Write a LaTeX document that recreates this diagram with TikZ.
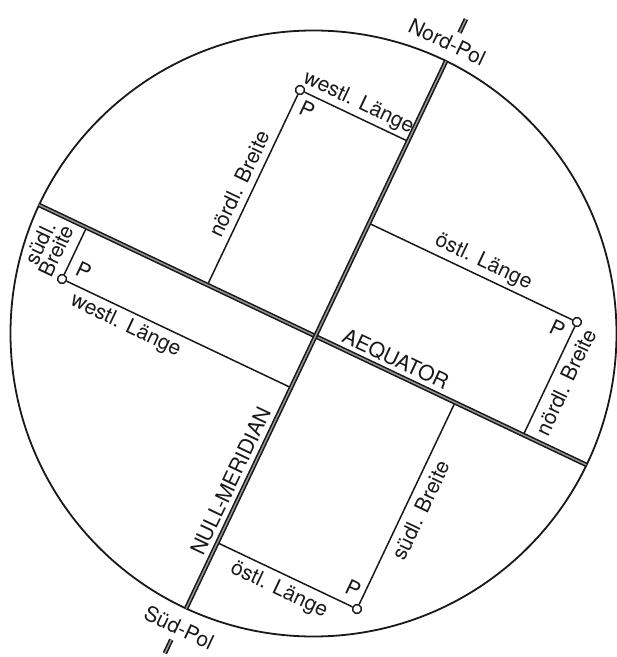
\documentclass[tikz,border=0pt]{standalone}
\usepackage{fontspec}
\setmainfont{TeX Gyre Heros}

\begin{document}
\begin{tikzpicture}[x=1pt, y=1pt,
  axis/.style={draw=black!90, line width=1.6pt, double=black!40, double distance=1.4pt},
  rim/.style={draw=black!90, line width=1.8pt},
  gridline/.style={draw=black!90, line width=1.5pt},
  pnt/.style={circle, draw=black!90, fill=white, line width=1.4pt, inner sep=0pt, minimum size=9pt},
  lbl/.style={font=\fontsize{21}{18}\selectfont, text=black!90, inner sep=0pt, align=center},
  vlbl/.style={lbl, rotate=90}
]
% Frame
\useasboundingbox (0,0) rectangle (617,657);

% Globe
\draw[rim] (313.5,323.5) circle (303);

\begin{scope}[shift={(315.4,320.8)}, rotate=-25.4, transform shape]
% Axes
\coordinate (O) at (0,0);
\coordinate (eqW) at (-306,0);
\coordinate (eqE) at (300,0);
\coordinate (mN) at (0,304.5);
\coordinate (mS) at (0,-301.5);
\coordinate (tN1) at (0,336);
\coordinate (tN2) at (0,351);
\coordinate (tS1) at (0,-336);
\coordinate (tS2) at (0,-351);

% Points
\node[pnt] (P1) at (-119.5,215.8) {};
\node[pnt] (P2) at (-253.4,-57) {};
\node[pnt] (P3) at (230.2,125) {};
\node[pnt] (P4) at (154.6,-228.6) {};

% Feet on meridian and equator
\coordinate (P1m) at (0,215.8);
\coordinate (P1e) at (-119.5,0);
\coordinate (P2m) at (0,-57);
\coordinate (P2e) at (-253.4,0);
\coordinate (P3m) at (0,125);
\coordinate (P3e) at (230.2,0);
\coordinate (P4m) at (0,-228.6);
\coordinate (P4e) at (154.6,0);

% Coordinate lines
\draw[gridline] (P1) -- (P1m);
\draw[gridline] (P1) -- (P1e);
\draw[gridline] (P2) -- (P2m);
\draw[gridline] (P2) -- (P2e);
\draw[gridline] (P3) -- (P3m);
\draw[gridline] (P3) -- (P3e);
\draw[gridline] (P4) -- (P4m);
\draw[gridline] (P4) -- (P4e);

% Equator and meridian
\draw[axis] (eqW) -- (eqE);
\draw[axis] (mS) -- (mN);
\draw[axis] (tN1) -- (tN2);
\draw[axis] (tS1) -- (tS2);

% Point labels
\node[lbl] (P1l) at (-104.5,201) {P};
\node[lbl] (P2l) at (-237.4,-40) {P};
\node[lbl] (P3l) at (215.2,111) {P};
\node[lbl] (P4l) at (142.6,-212) {P};

% Axis labels
\node[lbl] (aeq) at (82.5,13.5) {AEQUATOR};
\node[vlbl] (nm) at (-14,-167) {NULL-MERIDIAN};
\node[lbl] (np) at (-7,322) {Nord-Pol};
\node[lbl] (sp) at (2,-322) {Süd-Pol};

% Coordinate labels
\node[lbl] (l1) at (-61,229) {westl. Länge};
\node[vlbl] (b1) at (-134,105) {nördl. Breite};
\node[lbl] (l2) at (-176,-72) {westl. Länge};
\node[vlbl] (b2) at (-279.5,-34) {südl.\\Breite};
\node[lbl] (l3) at (120,139) {östl. Länge};
\node[vlbl] (b3) at (246,66) {nördl. Breite};
\node[lbl] (l4) at (76,-245) {östl. Länge};
\node[vlbl] (b4) at (170,-112) {südl. Breite};
\end{scope}

\end{tikzpicture}
\end{document}
